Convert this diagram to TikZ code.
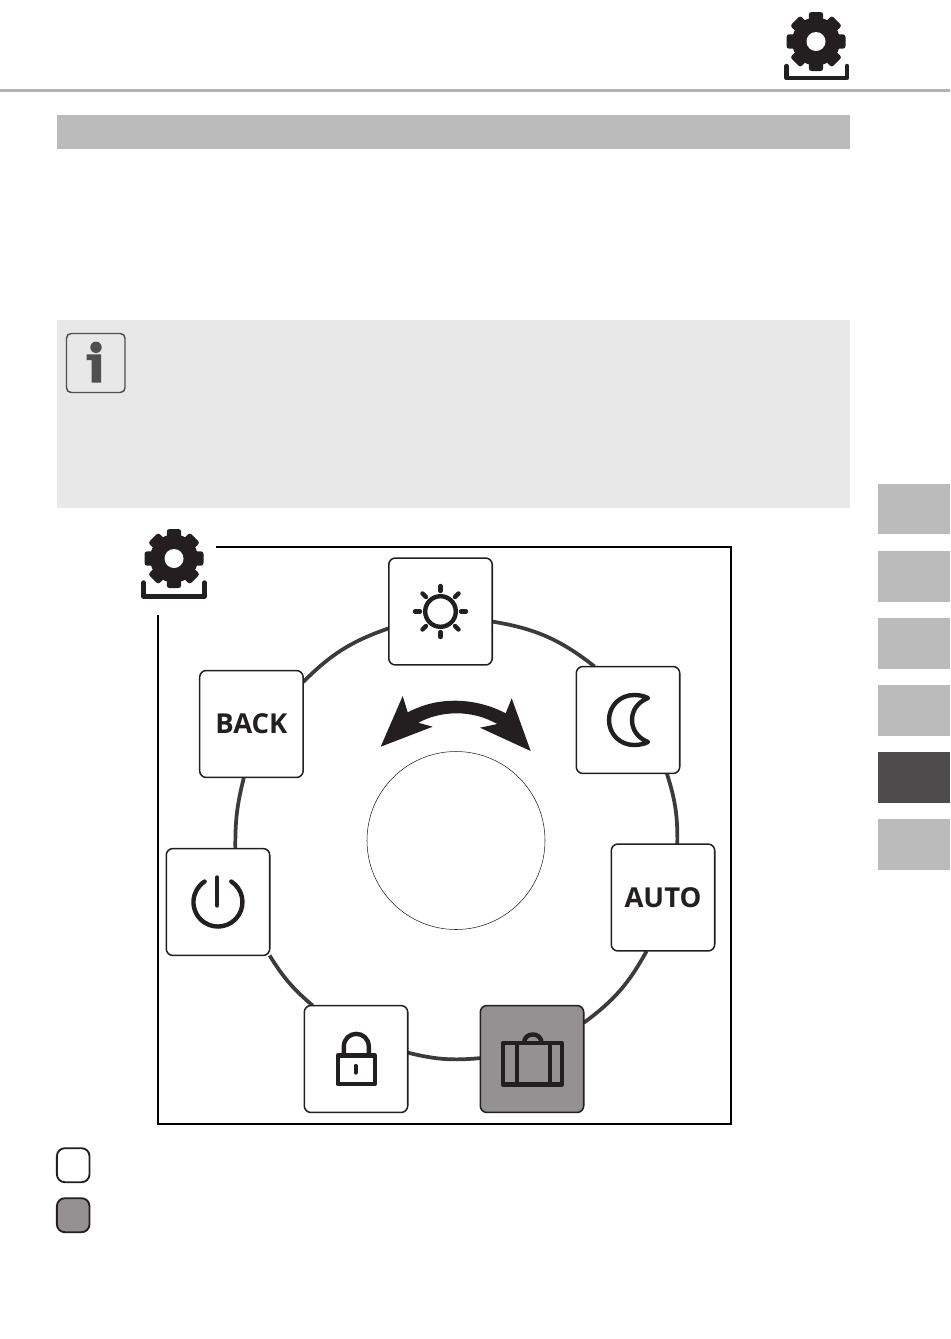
\documentclass[tikz,border=0pt]{standalone}
\usepackage{fontspec}
\setmainfont{Open Sans}
\usetikzlibrary{backgrounds}
\definecolor{inkblack}{HTML}{231F20}
\definecolor{ringgray}{HTML}{3C3A3B}
\definecolor{activegray}{HTML}{939192}
\definecolor{tabgray}{HTML}{BBBBBB}
\definecolor{tabdark}{HTML}{4D4B4B}
\definecolor{notegray}{HTML}{E8E8E8}
\definecolor{infogray}{HTML}{4F4F4F}
\begin{document}
\begin{tikzpicture}[
    x=0.75pt, y=-0.75pt,
    menubox/.style={rectangle, draw=inkblack, fill=white, line width=1.15pt, rounded corners=5pt, minimum width=77.6pt, minimum height=80.2pt, inner sep=0pt, outer sep=0pt, font=\bfseries\fontsize{20.6}{21}\selectfont, text=inkblack},
    keybox/.style={rectangle, draw=inkblack, line width=1.4pt, rounded corners=6pt, minimum width=24.5pt, minimum height=25.5pt, inner sep=0pt, outer sep=0pt},
    ringline/.style={draw=ringgray, line width=2.8pt},
    iconline/.style={draw=inkblack, line width=3.3pt, line join=round},
    raycap/.style={iconline, line cap=round},
    setupicon/.pic={
        \fill[inkblack] (0,0) circle (24);
        \foreach \a in {0,45,...,315}
            \fill[inkblack, rotate=\a, rounded corners=2pt] (-7.2,-29.5) rectangle (7.2,0);
        \fill[white] (0,0) circle (9.5);
    }
]
\useasboundingbox (0,0) rectangle (950,1339);
\fill[tabgray!95!black] (0,88.5) rectangle (950,92);
\fill[tabgray] (57,115) rectangle (850,148.5);
\fill[notegray] (57,320) rectangle (850,507.5);
\foreach \y/\c in {483.5/tabgray, 551/tabgray, 618/tabgray, 685/tabgray, 752/tabdark, 819/tabgray}
    \fill[\c] (877.5,\y) rectangle (950,\y+50.5);

\pic at (816,41.5) {setupicon};
\draw[iconline, line cap=round] (786.5,66) -- (786.5,78) -- (847,78) -- (847,66);

\draw[infogray, line width=1.1pt, rounded corners=3.5pt] (66.5,333.5) rectangle (125,392.5);
\fill[infogray] (96,347.3) circle (5.7);
\fill[infogray] (86.7,354.3) -- (101,354.3) -- (101,382.7) -- (91.7,382.7) -- (91.7,360) -- (86.7,360) -- cycle;

\pic at (174,558.5) {setupicon};
\draw[iconline, line cap=round] (143.5,582.5) -- (143.5,596.5) -- (204.5,596.5) -- (204.5,582.5);
\draw[black, line width=1.5pt] (215.5,547) -- (731,547) -- (731,1124) -- (158,1124) -- (158,615);

\node[draw=inkblack, line width=0.4pt, circle, minimum size=133.5pt, inner sep=0pt] (dial) at (456,840.5) {};
\fill[inkblack] (380.7,746.7) -- (402.7,696) -- (407.7,712.3) .. controls (425,703.5) and (440,700.7) .. (455,700.7)
    .. controls (472,700.7) and (490,705) .. (505.7,713.3) -- (511.7,698.3) -- (530.7,751) -- (480,727.7) -- (497.3,724)
    .. controls (484,716.5) and (470,713.3) .. (456.7,713.3) .. controls (443,713.3) and (430,716.5) .. (418.3,722.7)
    -- (432.7,726.7) -- cycle;

\node[menubox] (sun) at (440.5,611.5) {};
\node[menubox] (moon) at (628,720) {};
\node[menubox] (auto) at (663,897.5) {AUTO};
\node[menubox, fill=activegray] (holiday) at (532,1059) {};
\node[menubox] (lock) at (356,1059) {};
\node[menubox] (power) at (218,902) {};
\node[menubox] (back) at (251.4,724) {BACK};

\begin{scope}[on background layer]
\foreach \from/\to/\bendby in {sun.-11/moon.122/14.5, moon.-54/auto.75/9.3, auto.253/holiday.35/12.5, holiday.179/lock.7/9.6, lock.129/power.-46/9, power.72/back.262/7.4, back.39/sun.198/13}
    \draw[ringline] (\from) to[bend left=\bendby] (\to);
\end{scope}

\draw[iconline] (440.5,611.5) circle (15.3);
\foreach \a in {0,45,...,315}
    \draw[raycap, shift={(440.5,611.5)}] (\a:20.5) -- (\a:25.5);

\draw[iconline] (648,698) .. controls (643,695.5) and (638,695) .. (634,695) .. controls (620,695) and (609,706) .. (609,720)
    .. controls (609,734) and (620,745) .. (634,745) .. controls (638,745) and (643,744.5) .. (648,742)
    .. controls (638,738) and (632,730) .. (632,720) .. controls (632,710) and (638,702) .. (648,698) -- cycle;

\draw[raycap] (231.3,881.5) arc[start angle=-57, end angle=237, radius=24.5];
\draw[raycap] (217,877.5) -- (217,905.5);

\draw[iconline] (337.8,1055.4) rectangle (374.8,1084);
\draw[iconline] (343.8,1055) -- (343.8,1047) .. controls (343.8,1029.5) and (368.8,1029.5) .. (368.8,1047) -- (368.8,1055);
\draw[raycap] (355.7,1066) -- (355.7,1072.5);

\draw[iconline] (502.8,1043.2) rectangle (562,1084.6);
\draw[iconline] (517,1043.2) -- (517,1084.6) (550,1043.2) -- (550,1084.6);
\draw[iconline] (524,1043.2) .. controls (524,1031.5) and (541.6,1031.5) .. (541.6,1043.2);

\node[keybox, fill=white] (keyoff) at (73.2,1165.2) {};
\node[keybox, fill=activegray] (keyon) at (73.2,1215.2) {};
\end{tikzpicture}
\end{document}
